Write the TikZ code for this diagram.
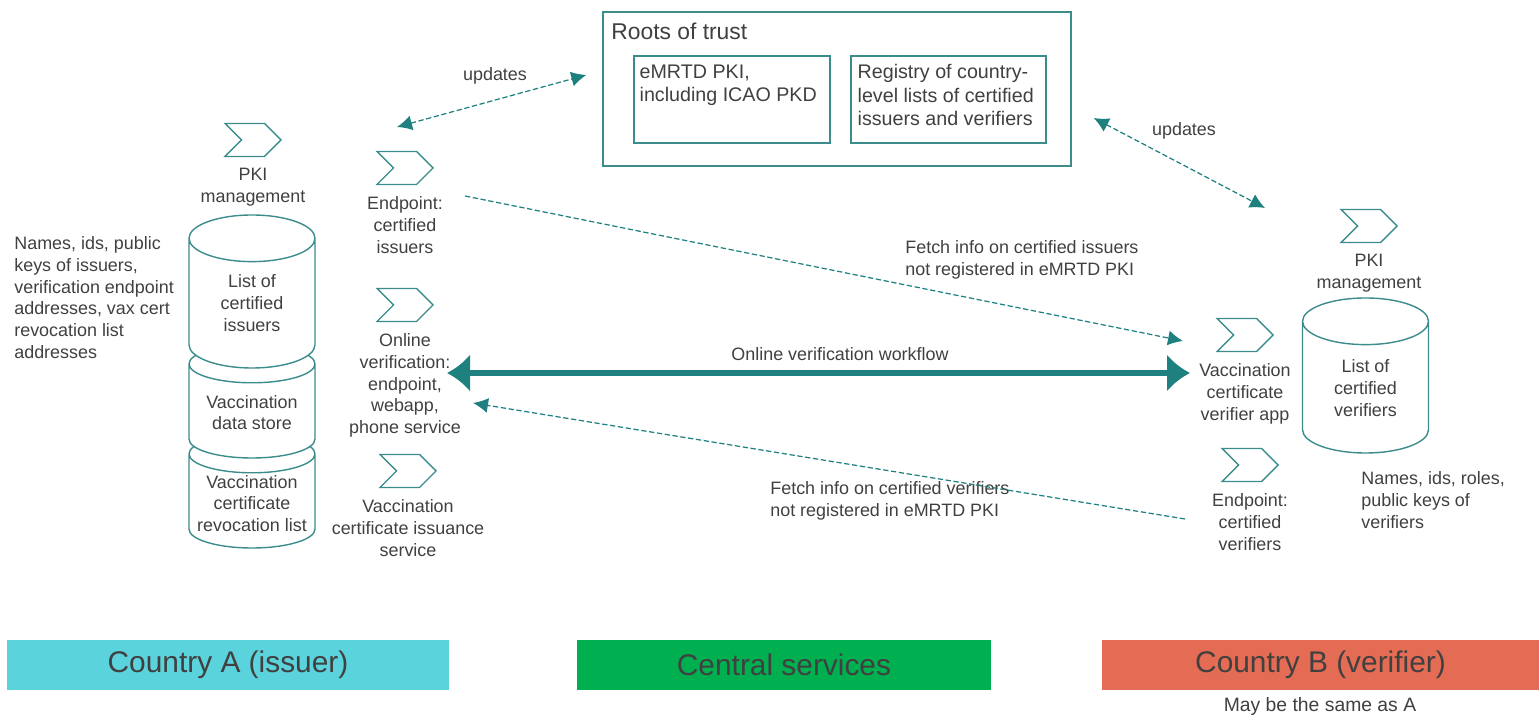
\documentclass[tikz,border=0pt]{standalone}
\usepackage{fontspec}
\setmainfont{Liberation Sans}
\usetikzlibrary{shapes,arrows.meta,positioning}
\definecolor{tealc}{RGB}{31,128,128}
\definecolor{boxc}{RGB}{60,140,140}
\definecolor{txtc}{RGB}{64,64,64}
\definecolor{cyanc}{RGB}{91,211,220}
\definecolor{greenc}{RGB}{0,176,80}
\definecolor{redc}{RGB}{229,108,84}

\begin{document}
\begin{tikzpicture}
    \tikzset{chev/.style={draw=boxc,signal,signal to=east,signal from=west,minimum width=1.12cm,minimum height=0.66cm,inner sep=0pt,line width=0.8pt},
      cyl/.style={draw=boxc,fill=white,cylinder,shape border rotate=90,aspect=0.37,anchor=shape center,text width=2.2cm,minimum width=2.52cm,inner sep=0.16cm,line width=0.8pt},
      lbl/.style={text=txtc,align=center,inner sep=0pt,font=\fontsize{10.2}{12.4}\selectfont},
      inbox/.style={draw=boxc,line width=0.8pt,rectangle,minimum width=3.92cm,minimum height=1.74cm},
      intxt/.style={text=txtc,align=left,anchor=north west,inner sep=0pt,font=\fontsize{11.2}{13.2}\selectfont},
      bar/.style={rectangle,minimum height=1cm,text=txtc,font=\fontsize{17}{20}\selectfont}}
    \tikzstyle{upd}=[{Latex[length=0.3cm,width=0.3cm]}-{Latex[length=0.3cm,width=0.3cm]},tealc,dash pattern=on 3pt off 1.5pt,line width=0.7pt]
    \tikzstyle{fetch}=[-{Latex[length=0.3cm,width=0.3cm]},tealc,dash pattern=on 3pt off 1.5pt,line width=0.7pt]
    \tikzstyle{flow}=[{Latex[length=0.46cm,width=0.76cm]}-{Latex[length=0.46cm,width=0.76cm]},tealc,line width=3.4pt]
    \useasboundingbox (0,0) rectangle (30.78,14.5);

    \node[draw=boxc,line width=0.8pt,minimum width=9.36cm,minimum height=3.08cm] (ROOT) at (16.74,12.72) {};
    \node[lbl,anchor=west,font=\fontsize{13}{15}\selectfont] (RTT) at (12.22,13.88) {Roots of trust};
    \node[inbox] (PKD) at (14.64,12.51) {};
    \node[intxt] (PKDT) at ([shift={(0.12,-0.18)}]PKD.north west) {eMRTD PKI,\\including ICAO PKD};
    \node[inbox,minimum width=3.90cm] (REG) at (18.97,12.51) {};
    \node[intxt] (REGT) at ([shift={(0.14,-0.18)}]REG.north west) {Registry of country-\\level lists of certified\\issuers and verifiers};

    \node[chev] (PKIL) at (5.06,11.70) {};
    \node[lbl,below=0.22cm of PKIL] (PKILT) {PKI\\management};
    \node[cyl,aspect=0.3,minimum height=2.26cm] (CRL) at (5.04,4.67) {};
    \node[cyl,aspect=0.3,minimum height=2.26cm] (VDS) at (5.04,6.47) {};
    \node[cyl,minimum height=3.06cm] (LCI) at (5.04,8.67) {};
    \node[lbl] (CRLT) at (5.04,4.43) {Vaccination\\certificate\\revocation list};
    \node[lbl] (VDST) at (5.04,6.25) {Vaccination\\data store};
    \node[lbl] (LCIT) at (5.04,8.44) {List of\\certified\\issuers};
    \node[lbl,anchor=west,align=left] (NIS) at (0.28,8.55) {Names, ids, public\\keys of issuers,\\verification endpoint\\addresses, vax cert\\revocation list\\addresses};

    \node[chev] (EPI) at (8.10,11.14) {};
    \node[lbl,below=0.22cm of EPI] (EPIT) {Endpoint:\\certified\\issuers};
    \node[chev] (OVS) at (8.10,8.40) {};
    \node[lbl,below=0.22cm of OVS] (OVST) {Online\\verification:\\endpoint,\\webapp,\\phone service};
    \node[chev] (VIS) at (8.16,5.08) {};
    \node[lbl,below=0.22cm of VIS] (VIST) {Vaccination\\certificate issuance\\service};

    \node[chev] (PKIR) at (27.38,9.98) {};
    \node[lbl,below=0.22cm of PKIR] (PKIRT) {PKI\\management};
    \node[cyl,minimum height=3.10cm] (LCV) at (27.31,6.99) {};
    \node[lbl] (LCVT) at (27.31,6.74) {List of\\certified\\verifiers};
    \node[lbl,anchor=west,align=left] (NVR) at (27.22,4.50) {Names, ids, roles,\\public keys of\\verifiers};
    \node[chev] (VVA) at (24.90,7.80) {};
    \node[lbl,below=0.22cm of VVA] (VVAT) {Vaccination\\certificate\\verifier app};
    \node[chev] (EPV) at (25.00,5.20) {};
    \node[lbl,below=0.22cm of EPV] (EPVT) {Endpoint:\\certified\\verifiers};

    \node[lbl] (UPL) at (9.90,12.98) {updates};
    \node[lbl] (UPR) at (23.68,11.88) {updates};
    \node[lbl,anchor=west,align=left] (FCI) at (18.10,9.31) {Fetch info on certified issuers\\not registered in eMRTD PKI};
    \node[lbl] (OVW) at (16.80,7.42) {Online verification workflow};
    \node[lbl,anchor=west,align=left] (FCV) at (15.40,4.49) {Fetch info on certified verifiers\\not registered in eMRTD PKI};

    \draw[upd] ([shift={(-0.16,0.82)}]EPI.center) -- ([shift={(-0.32,0.28)}]ROOT.west);
    \draw[upd] ([shift={(0.44,-0.58)}]ROOT.east) -- ([shift={(-2.08,0.36)}]PKIR.center);
    \draw[fetch] ([shift={(1.20,-0.56)}]EPI.center) -- ([shift={(-1.24,-0.12)}]VVA.center);
    \draw[flow] ([shift={(0.84,-1.36)}]OVS.center) -- ([shift={(-1.10,-0.76)}]VVA.center);
    \draw[fetch] ([shift={(-1.30,-1.08)}]EPV.center) -- ([shift={(1.36,-1.96)}]OVS.center);

    \node[bar,fill=cyanc,minimum width=8.84cm] (CA) at (4.56,1.20) {Country A (issuer)};
    \node[bar,fill=greenc,minimum width=8.28cm] (CS) at (15.68,1.20) {Central services};
    \node[bar,fill=redc,minimum width=8.74cm] (CB) at (26.41,1.20) {Country B (verifier)};
    \node[lbl,font=\fontsize{11}{13}\selectfont] (MAY) at (26.40,0.36) {May be the same as A};
\end{tikzpicture}
\end{document}
